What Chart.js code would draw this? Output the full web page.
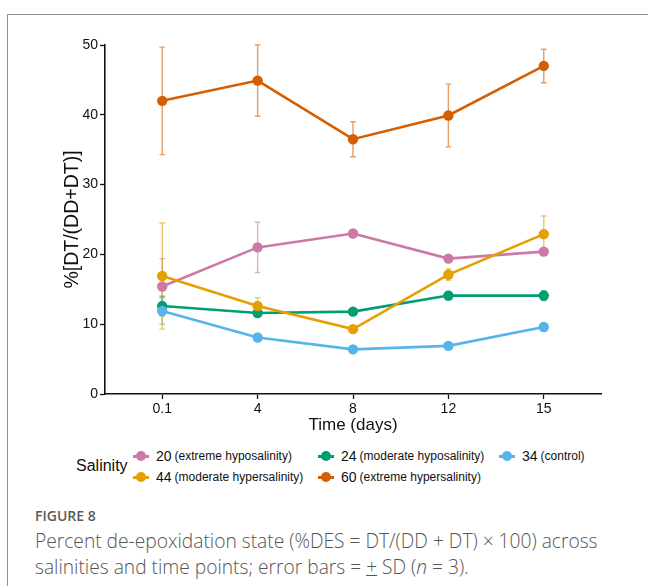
<!DOCTYPE html>
<html>
<head>
<meta charset="utf-8">
<script src="https://cdn.jsdelivr.net/npm/chart.js@4/dist/chart.umd.min.js"></script>
<style>
  html, body { margin: 0; padding: 0; background: #fff; }
  body { width: 648px; height: 586px; position: relative; overflow: hidden; font-family: "Liberation Sans", Arial, sans-serif; }
  .frame { position: absolute; left: 7px; top: 14px; width: 700px; height: 640px; border-left: 1px solid #8b949c; border-top: 1px solid #8b949c; }
  #wrap { position: absolute; left: 0; top: 0; width: 648px; height: 440px; }
  .salinity { position: absolute; left: 76px; top: 457px; font-size: 16px; color: #111; }
  .item { position: absolute; height: 20px; display: flex; align-items: center; white-space: nowrap; color: #111; }
  .mark { position: relative; width: 16px; height: 3px; margin-right: 7px; }
  .mark i { position: absolute; left: 3px; top: -4px; width: 10px; height: 10px; border-radius: 50%; }
  .num { font-size: 14px; margin-right: 3px; }
  .desc { font-size: 12px; }
  .fig { position: absolute; left: 35px; top: 506px; font-family: "Open Sans", sans-serif; font-size: 14px; font-weight: 600; color: #5a5a5a; }
  .cap { position: absolute; left: 35px; top: 528px; width: 612px; font-family: "Open Sans", sans-serif; font-size: 19.2px; font-weight: 300; line-height: 26px; color: #555; }
</style>
</head>
<body>
<div class="frame"></div>
<div id="wrap"><canvas id="desChart" width="648" height="440"></canvas></div>
<div class="salinity">Salinity</div>
<div id="legend"></div>
<div class="fig">FIGURE 8</div>
<div class="cap">Percent de-epoxidation state (%DES = DT/(DD + DT) × 100) across<br>salinities and time points; error bars = <span style="text-decoration: underline">+</span> SD (<i>n</i> = 3).</div>

<script>
// sampling times (days)
const timeLabels = ['0.1', '4', '8', '12', '15'];

// salinity groups
const salinityNames = ['20', '24', '34', '44', '60'];
const salinityNotes = ['(extreme hyposalinity)', '(moderate hyposalinity)', '(control)', '(moderate hypersalinity)', '(extreme hypersalinity)'];
const salinityColors = ['#cc79a7', '#009e73', '#56b4e9', '#e69f00', '#d55e00'];

// %DES means
const des20 = [15.4, 21.0, 23.0, 19.4, 20.4];
const des24 = [12.6, 11.6, 11.8, 14.1, 14.1];
const des34 = [11.9, 8.1, 6.4, 6.9, 9.6];
const des44 = [16.9, 12.6, 9.3, 17.1, 22.9];
const des60 = [42.0, 44.9, 36.5, 39.9, 47.0];

// standard deviations (n = 3)
const sd20 = [4.0, 3.6, 0.3, 0.4, 0.5];
const sd24 = [1.4, 0.4, 0.3, 0.6, 0.7];
const sd34 = [1.9, 0.3, 0.3, 0.3, 0.3];
const sd44 = [7.6, 1.2, 0.3, 0.8, 2.6];
const sd60 = [7.7, 5.1, 2.5, 4.5, 2.4];

const yTicks = [0, 10, 20, 30, 40, 50];

const means = [des20, des24, des34, des44, des60];
const sds = [sd20, sd24, sd34, sd44, sd60];
const drawOrder = [4, 3, 1, 2, 5];

const datasets = salinityNames.map((name, k) => ({
  label: name + ' ' + salinityNotes[k],
  data: timeLabels.map((t, i) => ({ x: i, y: means[k][i] })),
  sd: sds[k],
  borderColor: salinityColors[k],
  backgroundColor: salinityColors[k],
  borderWidth: 2.6,
  pointRadius: 5.2,
  pointBorderWidth: 0,
  pointHoverRadius: 5.2,
  order: drawOrder[k],
  tension: 0
}));

// vertical SD bars with caps, drawn under the lines
const errorBars = {
  id: 'errorBars',
  beforeDatasetsDraw(chart) {
    const { ctx, scales: { x, y } } = chart;
    ctx.save();
    ctx.lineWidth = 1.4;
    chart.data.datasets.forEach(ds => {
      ctx.strokeStyle = ds.borderColor;
      ctx.globalAlpha = 0.6;
      ds.data.forEach((p, i) => {
        const px = x.getPixelForValue(p.x);
        const top = y.getPixelForValue(p.y + ds.sd[i]);
        const bot = y.getPixelForValue(p.y - ds.sd[i]);
        ctx.beginPath();
        ctx.moveTo(px, top); ctx.lineTo(px, bot);
        ctx.moveTo(px - 2.8, top); ctx.lineTo(px + 2.8, top);
        ctx.moveTo(px - 2.8, bot); ctx.lineTo(px + 2.8, bot);
        ctx.stroke();
      });
    });
    ctx.restore();
  }
};

const axisFont = { family: '"Liberation Sans", Arial, sans-serif', size: 14 };

new Chart(document.getElementById('desChart'), {
  type: 'line',
  data: { datasets },
  plugins: [errorBars],
  options: {
    responsive: false,
    animation: false,
    layout: { padding: { left: 0, top: 45, right: 47, bottom: 0 } },
    plugins: { legend: { display: false }, tooltip: { enabled: false } },
    scales: {
      x: {
        type: 'linear',
        min: -0.6,
        max: 4.6,
        afterBuildTicks: s => { s.ticks = timeLabels.map((t, i) => ({ value: i })); },
        afterFit: s => { s.height = 46; },
        ticks: { callback: v => timeLabels[v], color: '#111', font: axisFont, padding: 2, maxRotation: 0 },
        grid: { drawOnChartArea: false, tickLength: 5, tickColor: '#111', tickWidth: 1.3 },
        border: { color: '#111', width: 1.6 },
        title: { display: true, text: 'Time (days)', color: '#111', font: { family: axisFont.family, size: 17 }, padding: { top: 0, bottom: 4 } }
      },
      y: {
        min: 0,
        max: 50,
        afterBuildTicks: s => { s.ticks = yTicks.map(v => ({ value: v })); },
        afterFit: s => { s.width = 105; },
        ticks: { color: '#111', font: axisFont, padding: 2 },
        grid: { drawOnChartArea: false, tickLength: 5, tickColor: '#111', tickWidth: 1.3 },
        border: { color: '#111', width: 1.6 },
        title: { display: true, text: '%[DT/(DD+DT)]', color: '#111', font: { family: axisFont.family, size: 19.5 }, padding: { top: 61, bottom: 0 } }
      }
    }
  }
});

// legend grid: three columns, row-major
const legendCols = [133, 318, 499];
const legendRows = [446, 467];
const legend = document.getElementById('legend');
salinityNames.forEach((name, k) => {
  const el = document.createElement('div');
  el.className = 'item';
  el.style.left = legendCols[k % 3] + 'px';
  el.style.top = legendRows[Math.floor(k / 3)] + 'px';
  el.innerHTML = '<span class="mark" style="background:' + salinityColors[k] + '"><i style="background:' + salinityColors[k] + '"></i></span>' +
    '<span class="num">' + name + '</span><span class="desc">' + salinityNotes[k] + '</span>';
  legend.appendChild(el);
});
</script>
</body>
</html>
